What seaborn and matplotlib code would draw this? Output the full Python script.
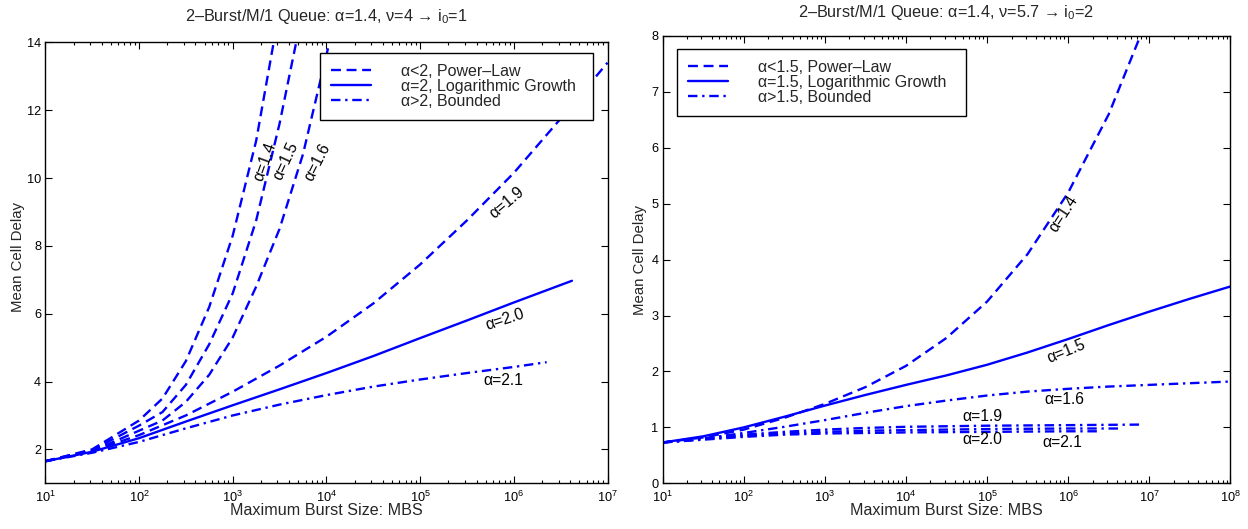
import matplotlib
matplotlib.use("Agg")
import matplotlib.pyplot as plt
import seaborn as sns
import pandas as pd
from matplotlib.ticker import LogLocator, FixedLocator, NullFormatter, LogFormatterSciNotation
from matplotlib.lines import Line2D

sns.set_style("ticks")
plt.rcParams['font.family'] = ['Liberation Sans', 'DejaVu Sans']
plt.rcParams['mathtext.fontset'] = 'custom'
plt.rcParams['mathtext.rm'] = 'Liberation Sans'
plt.rcParams['mathtext.it'] = 'Liberation Sans'

BLUE = '#0000ff'

# ---------------- Left panel data (MBS, mean cell delay) ----------------
L_a14_x = [1e1, 3.16e1, 1e2, 1.78e2, 3.16e2, 5.62e2, 1e3, 1.78e3, 2.82e3]
L_a14_y = [1.65, 2.0, 2.85, 3.5, 4.6, 6.2, 8.3, 11.1, 14.2]
L_a15_x = [1e1, 3.16e1, 1e2, 1.78e2, 3.16e2, 5.62e2, 1e3, 1.78e3, 3.16e3, 5.01e3]
L_a15_y = [1.65, 1.98, 2.7, 3.1, 3.9, 5.1, 6.6, 8.75, 11.6, 14.3]
L_a16_x = [1e1, 3.16e1, 1e2, 1.78e2, 3.16e2, 5.62e2, 1e3, 1.78e3, 3.16e3, 5.62e3, 1.12e4]
L_a16_y = [1.65, 1.95, 2.55, 2.85, 3.4, 4.2, 5.3, 6.8, 8.5, 10.7, 14.2]
L_a19_x = [1e1, 3.16e1, 1e2, 3.16e2, 1e3, 3.16e3, 1e4, 3.16e4, 1e5, 3.16e5, 1e6, 3.16e6, 1e7]
L_a19_y = [1.65, 1.95, 2.42, 3.0, 3.7, 4.47, 5.32, 6.3, 7.45, 8.75, 10.15, 11.75, 13.4]
L_a20_x = [1e1, 3.16e1, 1e2, 3.16e2, 1e3, 3.16e3, 1e4, 3.16e4, 1e5, 3.16e5, 1e6, 4.17e6]
L_a20_y = [1.65, 1.93, 2.33, 2.82, 3.3, 3.77, 4.25, 4.75, 5.28, 5.8, 6.33, 6.97]
L_a21_x = [1e1, 3.16e1, 1e2, 3.16e2, 1e3, 3.16e3, 1e4, 3.16e4, 1e5, 3.16e5, 1e6, 2.24e6]
L_a21_y = [1.65, 1.9, 2.22, 2.62, 3.0, 3.32, 3.6, 3.85, 4.06, 4.25, 4.43, 4.57]

# ---------------- Right panel data ----------------
R_a14_x = [1e1, 3.16e1, 1e2, 3.16e2, 1e3, 3.16e3, 1e4, 3.16e4, 1e5, 3.16e5, 1e6, 3.16e6, 1e7]
R_a14_y = [0.73, 0.82, 0.96, 1.17, 1.42, 1.72, 2.1, 2.6, 3.25, 4.1, 5.2, 6.6, 8.4]
R_a15_x = [1e1, 3.16e1, 1e2, 3.16e2, 1e3, 3.16e3, 1e4, 3.16e4, 1e5, 3.16e5, 1e6, 3.16e6, 1e7, 3.16e7, 1e8]
R_a15_y = [0.73, 0.84, 1.0, 1.19, 1.39, 1.58, 1.76, 1.93, 2.12, 2.34, 2.58, 2.83, 3.07, 3.3, 3.52]
R_a16_x = [1e1, 3.16e1, 1e2, 3.16e2, 1e3, 3.16e3, 1e4, 3.16e4, 1e5, 3.16e5, 1e6, 3.16e6, 1e7, 3.16e7, 1e8]
R_a16_y = [0.73, 0.8, 0.9, 1.01, 1.13, 1.26, 1.38, 1.48, 1.57, 1.64, 1.69, 1.73, 1.76, 1.79, 1.82]
R_a19_x = [1e1, 3.16e1, 1e2, 3.16e2, 1e3, 3.16e3, 1e4, 1e5, 1e6, 7.94e6]
R_a19_y = [0.73, 0.8, 0.87, 0.92, 0.96, 0.99, 1.01, 1.03, 1.04, 1.05]
R_a20_x = [1e1, 3.16e1, 1e2, 3.16e2, 1e3, 3.16e3, 1e4, 1e5, 1e6, 4.37e6]
R_a20_y = [0.73, 0.79, 0.85, 0.89, 0.92, 0.94, 0.95, 0.97, 0.98, 0.98]
R_a21_x = [1e1, 3.16e1, 1e2, 3.16e2, 1e3, 3.16e3, 1e4, 1e5, 1e6, 2.34e6]
R_a21_y = [0.73, 0.78, 0.83, 0.87, 0.89, 0.9, 0.91, 0.92, 0.93, 0.93]

left_title = r"2–Burst/M/1 Queue: α=1.4, ν=4 → i$_0$=1"
right_title = r"2–Burst/M/1 Queue: α=1.4, ν=5.7 → i$_0$=2"
left_legend = ["α<2, Power–Law", "α=2, Logarithmic Growth", "α>2, Bounded"]
right_legend = ["α<1.5, Power–Law", "α=1.5, Logarithmic Growth", "α>1.5, Bounded"]
left_xticks = [1e1, 1e2, 1e3, 1e4, 1e5, 1e6, 1e7]
right_xticks = [1e1, 1e2, 1e3, 1e4, 1e5, 1e6, 1e7, 1e8]
left_yticks = [2, 4, 6, 8, 10, 12, 14]
right_yticks = [0, 1, 2, 3, 4, 5, 6, 7, 8]

DASH = (0, (4.2, 2.4))
DASHDOT = (0, (4.0, 2.0, 1.0, 2.0))
SOLID = '-'
LW = 1.7

fig = plt.figure(figsize=(12.48, 5.29), dpi=100)
axL = fig.add_axes([0.0363, 0.0864, 0.4505, 0.8336])
axR = fig.add_axes([0.531, 0.0864, 0.4549, 0.8456])


def draw(ax, xs, ys, ls):
    df = pd.DataFrame({'x': xs, 'y': ys})
    sns.lineplot(data=df, x='x', y='y', ax=ax, color=BLUE, linestyle=ls,
                 linewidth=LW, legend=False, estimator=None, sort=False)


draw(axL, L_a14_x, L_a14_y, DASH)
draw(axL, L_a15_x, L_a15_y, DASH)
draw(axL, L_a16_x, L_a16_y, DASH)
draw(axL, L_a19_x, L_a19_y, DASH)
draw(axL, L_a20_x, L_a20_y, SOLID)
draw(axL, L_a21_x, L_a21_y, DASHDOT)

draw(axR, R_a14_x, R_a14_y, DASH)
draw(axR, R_a15_x, R_a15_y, SOLID)
draw(axR, R_a16_x, R_a16_y, DASHDOT)
draw(axR, R_a19_x, R_a19_y, DASHDOT)
draw(axR, R_a20_x, R_a20_y, DASHDOT)
draw(axR, R_a21_x, R_a21_y, DASHDOT)

for ax, xt in ((axL, left_xticks), (axR, right_xticks)):
    ax.set_xscale('log')
    ax.xaxis.set_major_locator(FixedLocator(xt))
    ax.xaxis.set_major_formatter(LogFormatterSciNotation())
    ax.xaxis.set_minor_locator(LogLocator(base=10, subs=range(2, 10), numticks=200))
    ax.xaxis.set_minor_formatter(NullFormatter())
    ax.tick_params(which='both', direction='in', top=True, right=True, labelsize=9.2,
                   colors='black', width=0.8)
    ax.tick_params(which='major', length=5, pad=3)
    ax.tick_params(which='minor', length=2.5)
    ax.tick_params(axis='x', which='major', pad=5)
    for s in ax.spines.values():
        s.set_linewidth(1.0)
        s.set_color('black')
    ax.set_xlabel("Maximum Burst Size: MBS", fontsize=11.6, labelpad=-1.5)
    ax.set_ylabel("Mean Cell Delay", fontsize=10.8)

axL.set_xlim(1e1, 1e7)
axL.set_ylim(1, 14)
axL.yaxis.set_major_locator(FixedLocator(left_yticks))
axR.set_xlim(1e1, 1e8)
axR.set_ylim(0, 8)
axR.yaxis.set_major_locator(FixedLocator(right_yticks))
axL.yaxis.set_label_coords(-0.036, 0.514)
axR.yaxis.set_label_coords(-0.0268, 0.5)

axL.set_title(left_title, fontsize=11.7, pad=15)
axR.set_title(right_title, fontsize=11.7, pad=13.5)

# Curve labels
lbl = dict(fontsize=11.3, ha='center', va='center', color='black')
axL.text(10**3.345, 10.49, "α=1.4", rotation=70, **lbl)
axL.text(10**3.569, 10.49, "α=1.5", rotation=65, **lbl)
axL.text(10**3.90, 10.46, "α=1.6", rotation=63, **lbl)
axL.text(10**5.924, 9.28, "α=1.9", rotation=40, **lbl)
axL.text(10**5.906, 5.84, "α=2.0", rotation=18, **lbl)
axL.text(10**5.888, 4.03, "α=2.1", rotation=0, **lbl)

axR.text(10**5.948, 4.83, "α=1.4", rotation=57, **lbl)
axR.text(10**5.973, 2.354, "α=1.5", rotation=22, **lbl)
axR.text(10**5.948, 1.50, "α=1.6", rotation=0, **lbl)
axR.text(10**4.94, 1.19, "α=1.9", rotation=0, **lbl)
axR.text(10**4.94, 0.787, "α=2.0", rotation=0, **lbl)
axR.text(10**5.93, 0.726, "α=2.1", rotation=0, **lbl)


def legend(ax, labels, box):
    handles = [Line2D([], [], color=BLUE, linestyle=DASH, linewidth=LW),
               Line2D([], [], color=BLUE, linestyle=SOLID, linewidth=LW),
               Line2D([], [], color=BLUE, linestyle=DASHDOT, linewidth=LW)]
    leg = ax.legend(handles, labels, loc='upper left', bbox_to_anchor=box, mode='expand',
                    fontsize=11.5, frameon=True, fancybox=False, shadow=False,
                    framealpha=1, edgecolor='black', handlelength=2.5,
                    handletextpad=1.9, labelspacing=0.0, borderpad=0.68,
                    borderaxespad=0)
    leg.get_frame().set_linewidth(1.0)


legend(axL, left_legend, (0.4886, 0.0, 0.4856, 0.976))
legend(axR, right_legend, (0.0247, 0.0, 0.509, 0.971))

fig.savefig("out.png", dpi=100)
